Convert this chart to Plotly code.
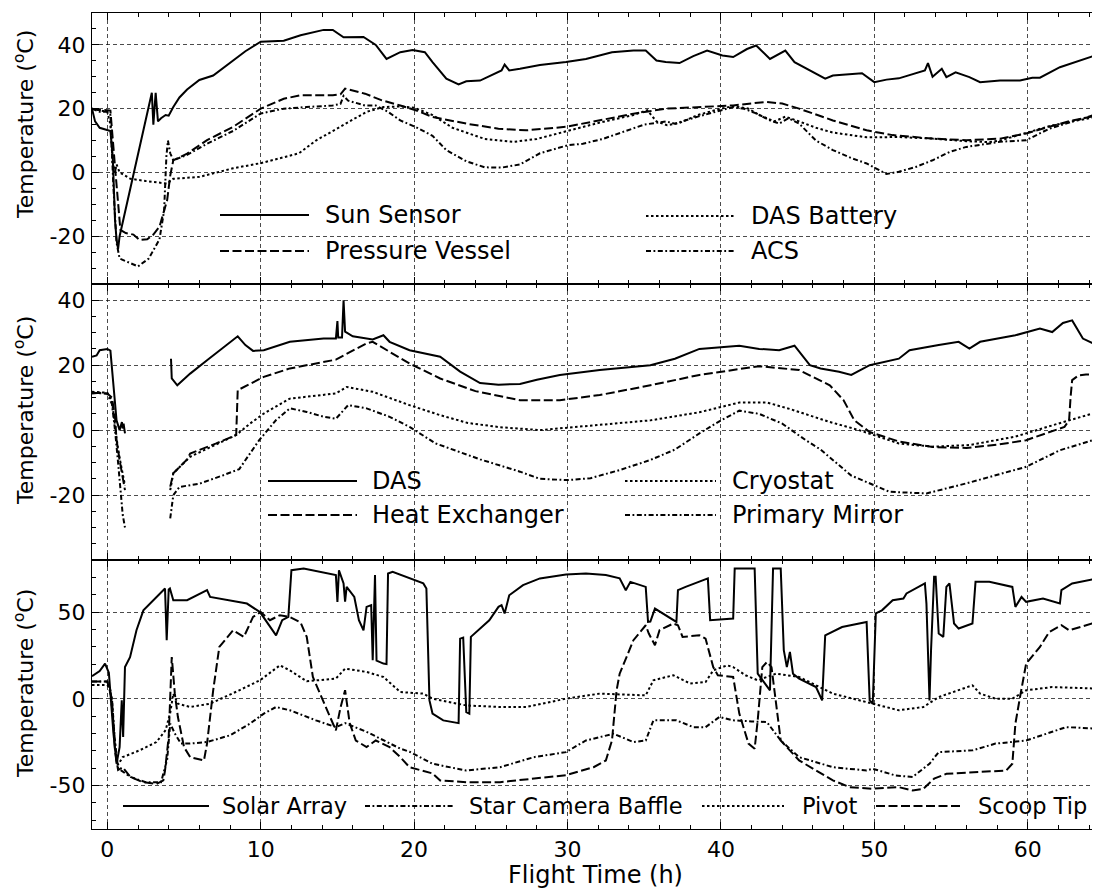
import plotly.graph_objects as go

# ---------------- Top panel ----------------
sun_sensor_t = [-1.0, -0.8, -0.5, -0.2, 0.2, 0.35, 0.5, 0.6, 0.7, 0.8, 2.9, 3.0, 3.15, 3.3, 3.5, 3.8, 4.0, 4.3, 4.7, 5.2, 6.0, 6.9, 8.2, 9.0, 10.0, 11.5, 12.6, 14.1, 14.7, 15.4, 16.7, 17.5, 18.2, 19.1, 19.9, 20.7, 21.2, 22.1, 22.9, 23.4, 24.3, 25.1, 25.7, 25.9, 26.2, 26.9, 28.2, 29.9, 31.2, 32.9, 34.3, 35.1, 35.8, 36.4, 37.3, 38.2, 39.1, 40.1, 40.8, 41.7, 42.3, 43.2, 44.2, 44.8, 45.6, 46.8, 47.3, 49.2, 50.0, 50.8, 51.6, 53.3, 53.5, 53.8, 54.4, 54.7, 55.3, 56.2, 56.9, 58.2, 59.5, 60.3, 60.8, 62.1, 64.6]
sun_sensor_y = [20, 16, 14, 13.5, 13, 5, -15, -21, -24, -20, 25, 15, 25, 16, 17, 18, 17.8, 20.5, 23.5, 26, 29, 30.4, 35, 38, 41, 41.3, 43, 44.7, 44.7, 42.4, 42.5, 40, 35.6, 37.7, 38.4, 37.7, 34.6, 29.4, 27.6, 28.6, 28.8, 30.7, 32, 33.8, 32, 32.5, 33.7, 34.6, 35.6, 37.7, 38.2, 38.2, 35.1, 34.6, 34.3, 36.5, 38.2, 36.7, 36.2, 38.7, 39.8, 35.6, 38.2, 34.6, 32.5, 29.4, 30.4, 31.1, 28.3, 29.1, 29.5, 32, 34.3, 30, 32.5, 29.9, 31.4, 29.9, 28.3, 28.8, 28.8, 29.7, 29.7, 33, 37]

pressure_vessel_t = [-1.0, -0.5, 0.0, 0.2, 0.5, 0.7, 0.85, 1.2, 1.7, 2.1, 2.6, 3.0, 3.4, 3.9, 4.1, 4.3, 5.2, 6.5, 8.2, 10.0, 11.5, 12.6, 14.7, 15.2, 15.5, 16.8, 17.9, 19.1, 20.1, 21.2, 23.4, 25.5, 27.3, 29.9, 32.1, 34.3, 36.4, 38.6, 40.8, 42.9, 44.0, 45.1, 47.3, 49.5, 51.2, 53.8, 56.0, 58.2, 59.9, 61.4, 62.9, 64.6]
pressure_vessel_y = [20, 19.6, 19.5, 19.4, 1.8, -10.7, -18, -19, -19.5, -21.2, -21, -19.5, -17, -8.7, -1, 3.8, 5.9, 10.1, 14.3, 20, 23.1, 24.2, 24.2, 24.5, 26.3, 24.7, 22.6, 21, 19.5, 17.4, 15.3, 13.7, 13.2, 14.3, 16.3, 18.4, 20, 20.5, 21, 22.1, 21.6, 20, 16.3, 13.2, 11.7, 10.6, 10.1, 10.6, 12.2, 14.3, 16.3, 17.9]

das_battery_t = [-1.0, -0.5, 0.0, 0.2, 0.35, 0.5, 0.6, 0.8, 1.5, 2.5, 3.5, 3.9, 4.3, 6.0, 8.2, 10.0, 11.7, 12.5, 13.6, 15.4, 16.9, 18.0, 19.1, 20.0, 21.2, 22.5, 23.4, 24.6, 26.5, 28.0, 30.0, 32.0, 34.3, 35.2, 35.8, 36.5, 37.3, 38.5, 40.0, 40.8, 41.8, 42.5, 43.5, 44.2, 45.1, 46.2, 47.3, 49.5, 51.6, 53.8, 56.0, 57.5, 58.2, 59.9, 61.4, 62.9, 64.6]
das_battery_y = [20, 19.5, 19, 15, 3, 0, 2.5, 0, -2, -2.7, -3.4, -3.5, -2, -1.4, 1.3, 2.9, 5, 6, 10, 15, 19, 20.5, 20.7, 20.3, 18, 14, 12.5, 10.5, 9.6, 10.5, 13, 15.5, 18, 19.5, 16, 14.8, 15.5, 18, 20, 20.8, 20, 18, 16, 17.5, 16, 14, 12.5, 11, 11.1, 10.6, 9.8, 9.5, 10, 12.5, 14.5, 16, 17.5]

acs_t = [-1.0, -0.5, 0.0, 0.2, 0.4, 0.6, 0.8, 1.3, 2.0, 2.7, 3.4, 3.7, 3.85, 3.95, 4.1, 4.3, 5.2, 6.5, 8.2, 10.0, 11.5, 13.0, 14.7, 15.2, 15.4, 15.7, 16.8, 17.5, 18.3, 19.1, 20.2, 21.2, 22.1, 23.4, 24.6, 25.7, 26.9, 28.2, 30.0, 31.0, 32.3, 33.8, 35.0, 36.4, 37.0, 38.5, 40.0, 40.8, 41.5, 42.3, 43.2, 43.8, 44.4, 45.1, 46.2, 47.3, 48.5, 49.5, 50.8, 51.6, 52.7, 53.8, 54.9, 56.0, 58.2, 59.9, 61.4, 64.6]
acs_y = [20, 19, 19, 18, -5, -22, -27, -28, -29.5, -27, -21, -12, 5, 10, 6, 3.8, 5.5, 9, 13, 18.5, 20, 20.5, 21, 21.5, 24, 22.5, 21, 21, 19, 16.3, 14, 11.5, 7, 3.5, 1.6, 1.5, 2.5, 6, 8.5, 9, 10.5, 13, 15, 16, 15.3, 17.5, 19.5, 20.5, 20, 18.5, 16.3, 15.3, 17, 15.3, 10, 7, 4.5, 2.8, -0.5, 0.2, 1.7, 3.8, 6.4, 8, 9.6, 10.1, 13.7, 18.4]

# ---------------- Middle panel ----------------
das_t = [-1.0, -0.7, -0.5, 0.0, 0.2, 0.4, 0.6, 0.8, 0.95, 1.0, 1.06, 1.15, 2.5, 4.15, 4.2, 4.56, 5.4, 6.5, 7.6, 8.5, 9.0, 9.5, 10.2, 11.9, 14.1, 14.9, 15.0, 15.05, 15.3, 15.4, 15.5, 16.0, 17.3, 18.0, 18.4, 19.7, 21.7, 23.0, 24.3, 25.5, 26.9, 28.0, 29.5, 32.1, 35.4, 37.0, 38.6, 40.0, 41.2, 42.5, 43.8, 44.8, 45.8, 46.5, 47.7, 48.5, 49.7, 51.6, 52.3, 54.2, 55.5, 56.2, 56.9, 59.2, 60.8, 61.6, 62.3, 62.9, 63.6, 64.5]
das_y = [22.6, 23, 24.6, 25, 24.5, 13.3, 3, 0, 2.5, 0.5, 2, -1, None, 22, 15.9, 13.8, 17.4, 21.5, 25.6, 28.9, 26.2, 24.4, 24.6, 27.2, 28.2, 28.2, 33.6, 28.5, 28.5, 40, 30.3, 28.9, 27.9, 29.2, 27.2, 24.6, 22.6, 18, 14.5, 14, 14.2, 15.5, 17, 18.5, 20, 22, 25, 25.5, 26, 25, 24.6, 26, 20, 19, 18, 17, 20, 22, 24.6, 26.2, 27.2, 25.1, 27.2, 29.2, 31.3, 30.2, 33, 33.8, 28.2, 26.2]

heat_exchanger_t = [-1.0, -0.5, 0.0, 0.3, 0.5, 0.6, 0.8, 1.06, 1.15, 2.5, 4.1, 4.3, 5.2, 5.4, 7.1, 8.4, 8.5, 8.9, 10.2, 11.9, 14.9, 15.4, 16.9, 17.3, 18.4, 19.7, 21.7, 24.0, 26.9, 29.5, 32.1, 35.4, 38.6, 42.5, 45.1, 47.1, 48.0, 48.7, 49.7, 51.6, 53.8, 56.0, 58.0, 59.9, 62.4, 62.7, 62.8, 62.9, 63.3, 63.8, 64.6]
heat_exchanger_y = [11.3, 11.5, 11.3, 10, 4, -3, -9.2, -16.4, -18.5, None, -17.4, -13.3, -9, -7.2, -4.1, -1.5, 12.3, 13.3, 16.4, 19, 21.7, 23, 26.7, 27.2, 24.1, 20.5, 15.9, 12, 9.2, 9.2, 10.8, 13.8, 17, 19.7, 18.5, 13.8, 9.2, 3, -0.6, -3.5, -5.2, -5.5, -4.5, -3.1, 1, 3, 10.3, 15.4, 16.8, 17.1, 17.1]

cryostat_t = [-1.0, 0.0, 0.3, 0.5, 0.7, 0.9, 1.15, 2.5, 4.1, 4.3, 5.4, 7.0, 8.4, 9.3, 10.2, 11.9, 14.1, 14.9, 15.6, 17.3, 19.7, 21.7, 23.5, 25.6, 28.2, 32.1, 35.4, 38.6, 41.2, 43.0, 44.5, 47.1, 49.0, 51.6, 53.8, 56.2, 59.2, 62.4, 64.6]
cryostat_y = [11.8, 11.5, 9, 2, -6, -11, -17, None, -18.5, -13.3, -8.2, -4.5, -1.5, 2, 5.1, 9.7, 10.8, 11.3, 13.3, 11.8, 7.7, 4.6, 2.2, 0.9, 0, 1.5, 3, 5.5, 8.5, 8.5, 6.5, 2.5, 0, -4.1, -5.1, -4.6, -2, 2.6, 5.6]

primary_mirror_t = [-1.0, 0.0, 0.3, 0.5, 0.7, 0.85, 1.0, 1.15, 2.5, 4.1, 4.3, 4.7, 6.0, 7.5, 8.6, 9.9, 11.0, 11.9, 13.0, 14.1, 14.9, 15.7, 16.9, 18.4, 19.7, 21.4, 24.3, 26.9, 28.2, 30.0, 31.5, 33.4, 35.4, 37.0, 38.6, 40.0, 41.2, 42.5, 44.0, 45.5, 46.5, 47.5, 48.5, 50.0, 51.0, 53.4, 56.0, 59.9, 62.1, 64.6]
primary_mirror_y = [11.5, 11.2, 8, 0, -10, -18, -26, -30, None, -27.2, -20, -17.5, -16.5, -14, -12, -3.1, 3.1, 6.7, 5.6, 4.1, 3.5, 7.7, 6.7, 4.1, 1, -4.1, -9, -12.8, -15, -15.4, -14.8, -12.3, -9.2, -6, -1, 3, 6, 5, 2, -3, -6, -10, -14, -17, -19, -19.5, -16.4, -11.3, -6.2, -2.6]

# ---------------- Bottom panel ----------------
solar_array_t = [-1.0, -0.5, -0.15, 0.1, 0.4, 0.6, 0.8, 0.94, 1.03, 1.15, 1.48, 1.9, 2.35, 3.2, 3.76, 3.87, 4.0, 4.08, 4.3, 5.2, 6.5, 6.7, 8.0, 9.1, 9.95, 11.0, 11.4, 11.8, 12.0, 12.8, 14.9, 15.0, 15.1, 15.4, 15.5, 15.6, 16.1, 16.4, 16.7, 16.9, 17.2, 17.3, 17.45, 17.55, 18.0, 18.2, 18.3, 18.6, 20.6, 20.8, 21.0, 21.2, 21.9, 22.9, 23.0, 23.2, 23.4, 23.6, 23.7, 24.3, 24.9, 25.5, 25.7, 25.9, 26.2, 27.1, 28.2, 29.9, 31.2, 32.5, 33.4, 33.8, 34.1, 35.1, 35.25, 35.4, 35.7, 37.1, 37.2, 37.7, 39.15, 39.3, 40.8, 40.9, 42.2, 42.4, 43.2, 43.4, 43.9, 44.1, 44.3, 44.5, 44.7, 45.1, 46.2, 46.6, 46.8, 47.9, 49.5, 49.7, 49.9, 50.1, 50.5, 51.2, 51.9, 52.1, 53.3, 53.4, 53.6, 53.7, 53.9, 54.0, 54.2, 54.5, 54.7, 54.9, 55.2, 55.5, 56.4, 56.6, 57.5, 59.0, 59.2, 59.6, 59.9, 61.0, 62.1, 62.2, 62.9, 64.6]
solar_array_y = [13, 16, 20.3, 15, -20, -37.4, -27.8, -0.9, -22, 18.3, 24, 39.5, 51, 58.7, 63.6, 33.8, 63, 63.6, 56.8, 56.8, 62.6, 58.7, 56.8, 54.9, 50, 36.6, 45.3, 47.2, 74.1, 75.1, 71.3, 55.9, 74.1, 66.5, 56, 64.5, 58.7, 45.3, 39.5, 53, 54, 22.2, 71.3, 22, 20.3, 20, 72.2, 73.2, 66.5, 63.6, -0.9, -8.5, -12.4, -14, 34.7, 35.3, -7.6, -8.5, 35.7, 40.5, 45.3, 53, 54, 49.2, 59.7, 65.5, 69.4, 71.7, 72.2, 71.3, 69.4, 62.6, 67.4, 64.5, 44.3, 44.5, 52, 44.3, 62.6, 64.5, 69.4, 45.3, 46.3, 75.1, 75.1, 14.5, 4.9, 75.1, 75.1, 28, 18.3, 27, 14.5, 11.7, 6.8, -0.9, 36.6, 41.4, 44.3, -0.9, -2.8, 49.2, 51, 56.8, 57.8, 60.7, 66.5, 54.9, -0.9, 28, 70.3, 70.3, 37.6, 35.7, 64.5, 66.5, 43.4, 40.5, 43.4, 67.4, 67.4, 64.5, 53, 58.7, 55.9, 57.8, 54.9, 62.6, 66.5, 69.4]

star_camera_baffle_t = [-1.0, 0.0, 0.3, 0.5, 0.7, 1.0, 1.5, 2.5, 3.5, 3.9, 4.1, 4.4, 4.8, 5.4, 6.5, 8.0, 9.3, 10.2, 11.0, 11.9, 13.6, 14.9, 15.5, 16.9, 18.4, 19.1, 19.7, 21.2, 23.4, 25.6, 27.8, 29.9, 31.2, 33.0, 34.3, 35.1, 35.6, 37.1, 38.2, 39.0, 39.9, 40.8, 42.0, 43.0, 43.9, 45.1, 47.3, 49.5, 49.9, 50.3, 51.4, 52.5, 53.6, 54.2, 56.4, 57.9, 59.2, 59.9, 61.6, 62.5, 64.6]
star_camera_baffle_y = [10, 10, 0, -25, -40, -42, -45, -48, -48, -35, -14.3, -20, -25.8, -25.8, -24.9, -21, -14.3, -8.5, -4.7, -6.6, -12.4, -16.3, -14, -19, -25.8, -28.7, -30.5, -37.4, -41.3, -39.4, -33.6, -30.7, -24, -20.1, -24.9, -24, -12.4, -12.4, -16.3, -16.3, -10.5, -12.4, -13, -13.4, -24, -33.6, -39.4, -41.3, -40.3, -41.3, -44.2, -45, -37.4, -30.7, -29.7, -25.8, -24.9, -24, -19, -16.3, -17.2]

pivot_t = [-1.0, 0.0, 0.2, 0.4, 0.6, 0.7, 1.0, 2.1, 3.2, 3.8, 4.1, 4.3, 4.6, 5.4, 6.7, 8.6, 9.95, 11.25, 11.9, 13.0, 14.9, 15.5, 16.9, 18.0, 19.1, 20.6, 21.2, 23.4, 25.6, 27.3, 29.9, 32.1, 35.1, 35.6, 36.9, 38.0, 39.0, 39.5, 40.4, 40.8, 41.6, 42.4, 43.6, 45.1, 47.3, 49.9, 51.6, 53.2, 54.2, 56.4, 56.9, 57.9, 59.0, 59.9, 61.6, 64.6]
pivot_y = [8, 8, 5, -15, -35, -38, -33.6, -29.7, -24.9, -18, -8, 3, -2.8, -4.7, -2.8, 4.9, 10.7, 19.3, 16.4, 10.1, 11.7, 17.4, 15.5, 12.6, 3.9, 3, 0.1, -3.8, -4.7, -4.7, 0.1, 3, 2, 10.7, 13.6, 8.8, 9.7, 16.4, 19.3, 18.3, 13.6, 10.7, 14.5, 12.6, 3, -2.8, -6.6, -4.7, 1, 7.8, 3, 0.1, 0.1, 4.9, 6.8, 5.9]

scoop_tip_t = [-1.0, 0.0, 0.3, 0.5, 0.7, 1.0, 1.5, 2.3, 3.2, 3.65, 3.76, 4.0, 4.2, 4.4, 4.6, 5.0, 5.4, 6.3, 6.5, 6.9, 7.3, 8.2, 8.9, 9.5, 10.0, 10.6, 11.25, 11.9, 12.6, 13.0, 13.4, 14.5, 14.9, 15.2, 15.5, 15.8, 16.2, 16.9, 17.5, 18.4, 19.1, 19.7, 21.2, 21.7, 23.4, 25.6, 27.8, 29.9, 31.7, 32.5, 32.9, 33.2, 33.4, 34.3, 35.1, 35.3, 35.7, 36.0, 36.9, 37.2, 37.5, 38.6, 39.0, 39.5, 39.8, 40.8, 41.2, 41.8, 42.2, 42.4, 42.7, 43.0, 43.3, 43.6, 43.9, 45.1, 47.3, 48.4, 49.9, 51.6, 52.5, 53.2, 53.9, 54.7, 56.9, 58.6, 59.0, 59.2, 59.5, 59.9, 60.8, 61.4, 62.2, 62.7, 64.2, 64.6]
scoop_tip_y = [10, 10, 0, -30, -41, -39.4, -45, -48, -49, -47, -41.3, -22, 24.1, 3, -10.5, -27.8, -33.6, -35.5, -25.8, 4.9, 29.9, 39.5, 35.7, 47.2, 50, 45.3, 48.2, 47.2, 44, 35.7, 12.6, -10.5, -18.2, -5, 5, -14, -24, -27.8, -24, -27.8, -33.6, -39.4, -43, -47, -48, -48, -46, -44, -39.4, -35.5, -24, 4.9, 14.5, 33.8, 42.4, 37.6, 30.9, 39.5, 43.4, 42.4, 35.7, 36.6, 34.7, 18.3, 13.6, 12.6, -8.5, -25.8, -28.7, -12.4, 18.3, 21.2, 18.3, -4.7, -24, -35.5, -47, -50.9, -51.8, -50.9, -52.8, -51.8, -46, -43.2, -42.2, -41.3, -37.4, -14.3, 1, 20.3, 29.9, 38.5, 42.4, 39.5, 43.4, 44.3]

# ---------------- Labels / ticks ----------------
top_names = ["Sun Sensor", "Pressure Vessel", "DAS Battery", "ACS"]
mid_names = ["DAS", "Heat Exchanger", "Cryostat", "Primary Mirror"]
bot_names = ["Solar Array", "Star Camera Baffle", "Pivot", "Scoop Tip"]
x_ticks = [0, 10, 20, 30, 40, 50, 60]
y_ticks_top = [-20, 0, 20, 40]
y_ticks_mid = [-20, 0, 20, 40]
y_ticks_bot = [-50, 0, 50]
x_title = "Flight Time (h)"
y_title = "Temperature (<sup>o</sup>C)"

# ---------------- Styles ----------------
FONT = "DejaVu Sans"
SOLID = "solid"
DASHED = "9px,3.5px"
DOTTED = "2.5px,2.5px"
DASHDOT = "5px,2.5px,1.8px,2.5px"
LW = 2

# The page body adds an 8px offset; all pixel positions below are page pixels.
OFF = 8
W, H = 1100, 890
ML, MR, MT, MB = 92 - OFF, 1 + OFF, 13 - OFF, 61 + OFF
PW, PH = W - ML - MR, H - MT - MB


def px_x(p):
    return (p - OFF - ML) / PW


def px_y(p):
    return (H - MB - (p - OFF)) / PH


fig = go.Figure()

panels = [
    ("x", "y", [(sun_sensor_t, sun_sensor_y, SOLID), (pressure_vessel_t, pressure_vessel_y, DASHED),
                (das_battery_t, das_battery_y, DOTTED), (acs_t, acs_y, DASHDOT)], top_names),
    ("x2", "y2", [(das_t, das_y, SOLID), (heat_exchanger_t, heat_exchanger_y, DASHED),
                  (cryostat_t, cryostat_y, DOTTED), (primary_mirror_t, primary_mirror_y, DASHDOT)], mid_names),
    ("x3", "y3", [(solar_array_t, solar_array_y, SOLID), (star_camera_baffle_t, star_camera_baffle_y, DASHDOT),
                  (pivot_t, pivot_y, DOTTED), (scoop_tip_t, scoop_tip_y, DASHED)], bot_names),
]

for xa, ya, series, names in panels:
    for (t, v, dash), nm in zip(series, names):
        fig.add_trace(go.Scatter(x=t, y=v, mode="lines", name=nm, xaxis=xa, yaxis=ya,
                                 connectgaps=False, showlegend=False,
                                 line=dict(color="black", width=LW, dash=dash)))

# panel pixel extents (page pixels)
top_px = (13, 284)
mid_px = (284, 560)
bot_px = (560, 829)


def dom(pp):
    return [px_y(pp[1]), px_y(pp[0])]


grid = dict(showgrid=True, gridcolor="rgba(0,0,0,0.7)", gridwidth=0.9, griddash="4px,3px")
common = dict(ticks="inside", ticklen=7, tickwidth=1.2, tickcolor="black", showline=True,
              linecolor="black", linewidth=1.2, mirror="allticks", zeroline=False,
              automargin=False,
              tickfont=dict(family=FONT, size=22, color="black"), **grid)

xcommon = dict(common, range=[-1, 64.65], tickmode="array", tickvals=x_ticks,
               ticktext=[str(v) for v in x_ticks],
               minor=dict(ticks="inside", ticklen=4, tickwidth=1.1, tickcolor="black",
                          tickmode="linear", tick0=0, dtick=2, showgrid=False))


def ycfg(rng, vals, dt, pp, anchor):
    return dict(common, range=rng, tickmode="array", tickvals=vals,
                ticktext=[str(v) for v in vals], domain=dom(pp), anchor=anchor,
                ticklabelstandoff=1,
                minor=dict(ticks="inside", ticklen=4, tickwidth=1.1, tickcolor="black",
                           tickmode="linear", tick0=0, dtick=dt, showgrid=False))


fig.update_layout(
    width=W, height=H, paper_bgcolor="white", plot_bgcolor="white",
    margin=dict(l=ML, r=MR, t=MT, b=MB, autoexpand=False),
    font=dict(family=FONT, color="black"),
    showlegend=False,
    xaxis=dict(xcommon, anchor="y", showticklabels=False),
    xaxis2=dict(xcommon, anchor="y2", showticklabels=False, matches="x"),
    xaxis3=dict(xcommon, anchor="y3", matches="x", ticklabelstandoff=0,
                title=dict(text=x_title, font=dict(family=FONT, size=24, color="black"), standoff=2)),
    yaxis=ycfg([-35, 50], y_ticks_top, 5, top_px, "x"),
    yaxis2=ycfg([-40, 45], y_ticks_mid, 5, mid_px, "x2"),
    yaxis3=ycfg([-75, 80], y_ticks_bot, 10, bot_px, "x3"),
)

# y-axis titles (one per panel)
for yc in (125, 411, 684):
    fig.add_annotation(xref="paper", yref="paper", x=px_x(24), y=px_y(yc), text=y_title,
                       textangle=-90, showarrow=False, xanchor="center", yanchor="middle",
                       font=dict(family=FONT, size=22, color="black"))

# ---------------- Legends (line samples + text) ----------------
LEG_BIG, LEG_SMALL = 24, 22.5
legend_items = [
    # (name, dash, line x0, line x1, y, text x, font size)
    (top_names[0], SOLID, 220, 309, 215, 323, LEG_BIG),
    (top_names[1], DASHED, 220, 309, 251, 323, LEG_BIG),
    (top_names[2], DOTTED, 646, 735, 216, 749, LEG_BIG),
    (top_names[3], DASHDOT, 646, 735, 251, 749, LEG_BIG),
    (mid_names[0], SOLID, 268, 357, 481, 370, LEG_BIG),
    (mid_names[1], DASHED, 268, 357, 515, 370, LEG_BIG),
    (mid_names[2], DOTTED, 625, 716, 481, 730, LEG_BIG),
    (mid_names[3], DASHDOT, 625, 716, 515, 730, LEG_BIG),
    (bot_names[0], SOLID, 123, 209, 806, 220, LEG_SMALL),
    (bot_names[1], DASHDOT, 365, 453, 806, 467, LEG_SMALL),
    (bot_names[2], DOTTED, 702, 784, 806, 800, LEG_SMALL),
    (bot_names[3], DASHED, 876, 962, 806, 976, LEG_SMALL),
]
for nm, dash, x0, x1, yy, tx, fs in legend_items:
    fig.add_shape(type="line", xref="paper", yref="paper", x0=px_x(x0), x1=px_x(x1),
                  y0=px_y(yy), y1=px_y(yy), line=dict(color="black", width=LW, dash=dash))
    fig.add_annotation(xref="paper", yref="paper", x=px_x(tx), y=px_y(yy), text=nm,
                       showarrow=False, xanchor="left", yanchor="middle",
                       font=dict(family=FONT, size=fs, color="black"))

fig.write_html("out.html")
